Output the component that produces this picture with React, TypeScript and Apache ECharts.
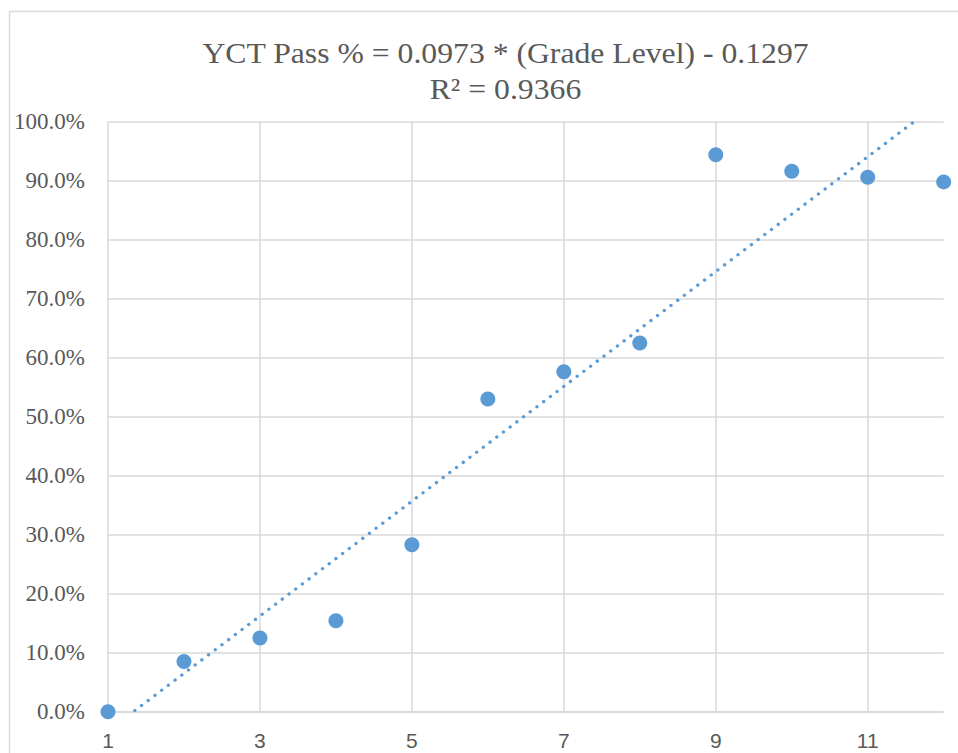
import React, { useEffect, useRef } from "react";
import * as echarts from "echarts";

const GRADES = [1, 2, 3, 4, 5, 6, 7, 8, 9, 10, 11, 12];
const PASS_RATE = [0.0, 0.085, 0.125, 0.154, 0.283, 0.53, 0.576, 0.625, 0.944, 0.916, 0.906, 0.898];
const TREND_SLOPE = 0.0973;
const TREND_INTERCEPT = -0.1297;
const TREND_X = [1, 12];
const TITLE_LINE1 = "YCT Pass % = 0.0973 * (Grade Level) - 0.1297";
const TITLE_LINE2 = "R² = 0.9366";

export default function App() {
  const ref = useRef<HTMLDivElement>(null);
  useEffect(() => {
    document.body.style.margin = "0";
    const chart = echarts.init(ref.current!, undefined, { renderer: "svg" });
    const points = GRADES.map((g, i) => [g, PASS_RATE[i]]);
    const trend = TREND_X.map((x) => [x, TREND_SLOPE * x + TREND_INTERCEPT]);
    const gray = "#595959";
    const gridColor = "#D9D9D9";
    const serif = "'Liberation Serif', 'Times New Roman', serif";
    chart.setOption({
      animation: false,
      backgroundColor: "#ffffff",
      grid: { left: 108, right: 14.3, top: 121.7, bottom: 41.3, containLabel: false },
      graphic: [
        {
          type: "rect",
          silent: true,
          shape: { x: 9.5, y: 11.5, width: 1200, height: 1200 },
          style: { fill: "none", stroke: gridColor, lineWidth: 1.3 },
          z: -10,
        },
        {
          type: "text",
          x: 505.5,
          y: 53,
          scaleX: 1.075,
          style: {
            text: TITLE_LINE1,
            textAlign: "center",
            textVerticalAlign: "middle",
            fontFamily: serif,
            fontSize: 29.5,
            fill: gray,
          },
        },
        {
          type: "text",
          x: 505.5,
          y: 89,
          scaleX: 1.075,
          style: {
            text: TITLE_LINE2,
            textAlign: "center",
            textVerticalAlign: "middle",
            fontFamily: serif,
            fontSize: 29.5,
            fill: gray,
          },
        },
      ],
      xAxis: {
        type: "value",
        min: 1,
        max: 12,
        interval: 2,
        axisLine: { show: true, lineStyle: { color: gridColor, width: 1.5 } },
        axisTick: { show: false },
        splitLine: { show: true, showMaxLine: false, lineStyle: { color: gridColor, width: 1.5 } },
        axisLabel: {
          showMaxLabel: false,
          margin: 18,
          color: gray,
          fontFamily: "'Liberation Sans', Arial, sans-serif",
          fontSize: 21,
        },
      },
      yAxis: {
        type: "value",
        min: 0,
        max: 1,
        interval: 0.1,
        axisLine: { show: false },
        axisTick: { show: false },
        splitLine: { show: true, lineStyle: { color: gridColor, width: 1.5 } },
        axisLabel: {
          margin: 23,
          color: gray,
          fontFamily: serif,
          fontSize: 23,
          formatter: (v: number) => (v * 100).toFixed(1) + "%",
        },
      },
      series: [
        {
          type: "scatter",
          data: points,
          symbol: "circle",
          symbolSize: 15,
          itemStyle: { color: "#5B9BD5", opacity: 1 },
          z: 2,
        },
        {
          type: "line",
          data: trend,
          symbol: "none",
          clip: true,
          lineStyle: { color: "#5B9BD5", width: 3.3, type: [0.1, 8.3], cap: "round" },
          z: 3,
        },
      ],
    });
    return () => chart.dispose();
  }, []);
  return <div ref={ref} style={{ position: "fixed", left: 0, top: 0, width: 958, height: 753 }} />;
}
